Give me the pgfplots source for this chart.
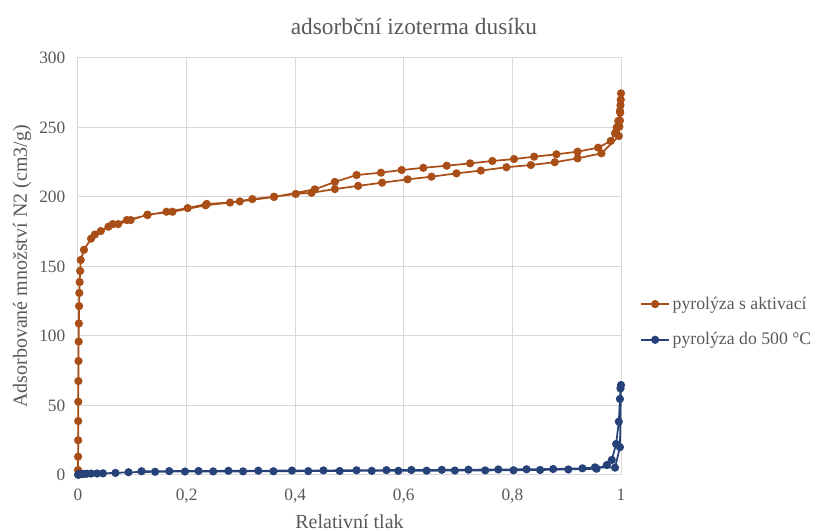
\documentclass[border=0pt]{standalone}
\usepackage{fontspec}
\setmainfont{Liberation Serif}
\usepackage{pgfplots}
\pgfplotsset{compat=1.18}
\definecolor{orng}{RGB}{168,78,22}
\definecolor{dblue}{RGB}{38,66,120}
\definecolor{gridc}{RGB}{217,217,217}
\definecolor{txt}{RGB}{89,89,89}
\begin{document}
\begin{tikzpicture}
\begin{axis}[
  at={(0,0)}, anchor=south west,
  scale only axis, width=407.25pt, height=312.75pt,
  xmin=0, xmax=1, ymin=0, ymax=300,
  xtick={0,0.2,0.4,0.6,0.8,1}, ytick={0,50,100,150,200,250,300},
  grid=major, grid style={gridc, line width=0.75pt},
  axis line style={gridc, line width=0.75pt},
  major tick length=0pt,
  tick label style={font=\fontsize{13}{15}\selectfont, text=txt},
  /pgf/number format/assume math mode=true,
  /pgf/number format/use comma,
  xticklabel style={yshift=-7pt},
  yticklabel style={xshift=-6pt},
  xlabel={Relativní tlak}, ylabel={Adsorbované množství N2 (cm3/g)},
  every axis x label/.style={at={(axis description cs:0.5,-0.112)}, anchor=center, font=\fontsize{15}{17}\selectfont, text=txt},
  every axis y label/.style={at={(axis description cs:-0.103,0.5)}, rotate=90, anchor=center, font=\fontsize{15}{17}\selectfont, text=txt},
  legend style={at={(1.035,0.367)}, anchor=west, draw=none, fill=none,
    font=\fontsize{13.3}{15}\selectfont, text=txt, row sep=12pt, inner sep=0pt},
  legend cell align=left,
  legend image code/.code={\draw[mark repeat=2,mark phase=2] plot coordinates {(0pt,0pt)(10.5pt,0pt)(21pt,0pt)};},
  clip=false,
]
\addplot[orng, line width=1.3pt, mark=*, mark size=2.4pt, mark options={fill=orng, draw=orng}] coordinates {
(0.0001,3.6)(0.0002,13.2)(0.0003,25)(0.0004,38.8)(0.0005,52.7)(0.0007,67.6)(0.0009,82)(0.0012,96)(0.0016,109)(0.002,121.5)(0.0025,131)(0.003,138.8)(0.004,146.8)(0.005,154.7)(0.011,162)(0.024,170)(0.042,175.5)(0.064,180.5)(0.09,183.4)(0.128,187)(0.163,189.4)(0.202,192)(0.237,195)(0.28,196)(0.321,198.5)(0.361,200.2)(0.401,202.2)(0.43,203)(0.473,205.7)(0.516,208)(0.56,210.3)(0.607,212.7)(0.651,214.6)(0.697,217)(0.742,219)(0.789,221.4)(0.834,223)(0.878,225)(0.92,227.8)(0.964,231.4)(0.996,243.9)(0.997,250.6)(0.998,255)(0.9985,260.6)(0.999,266)(0.9995,270)(1.0,274.6)
(0.998,262)(0.995,254.7)(0.992,250)(0.989,245.8)(0.981,240.3)(0.958,235.5)(0.92,232.6)(0.881,230.7)(0.84,229)(0.803,227.3)(0.763,225.9)(0.722,224.2)(0.679,222.5)(0.636,221)(0.596,219.4)(0.558,217.5)(0.513,215.8)(0.473,210.8)(0.436,205.5)(0.361,200)(0.298,196.8)(0.235,194)(0.174,189.4)(0.128,187.3)(0.097,183.4)(0.074,180.5)(0.056,178.6)(0.031,173)
};
\addlegendentry{pyrolýza s aktivací}
\addplot[dblue, line width=1.3pt, mark=*, mark size=2.4pt, mark options={fill=dblue, draw=dblue}] coordinates {
(0.0002,0.2)(0.0005,0.3)(0.001,0.4)(0.002,0.5)(0.004,0.6)(0.007,0.7)(0.011,0.8)(0.016,0.9)(0.024,1.0)(0.035,1.1)(0.046,1.2)(0.069,1.5)(0.093,2.0)(0.142,2.3)(0.197,2.5)(0.249,2.6)(0.304,2.6)(0.36,2.7)(0.424,2.8)(0.482,2.9)(0.541,3.0)(0.59,3.0)(0.642,3.1)(0.694,3.2)(0.75,3.3)(0.802,3.4)(0.851,3.6)(0.903,4.0)(0.955,4.5)(0.974,7.2)(0.983,10.8)(0.991,22.3)(0.996,38.4)(0.998,54.7)(0.999,62.3)(1.0,64.7)
(0.998,20)(0.989,5.3)(0.952,5.5)(0.929,4.8)(0.875,4.3)(0.826,4.1)(0.774,4.0)(0.719,3.8)(0.67,3.7)(0.614,3.6)(0.568,3.5)(0.513,3.4)(0.452,3.3)(0.394,3.2)(0.332,3.1)(0.277,3.0)(0.222,2.9)(0.168,2.8)(0.117,2.7)
};
\addlegendentry{pyrolýza do 500 °C}
\end{axis}
\node[font=\fontsize{17.5}{20}\selectfont, text=txt] at (252pt,336pt) {adsorbční izoterma dusíku};
\pgfresetboundingbox
\path (-58.5pt,-42pt) rectangle (561.75pt,356.25pt);
\end{tikzpicture}
\end{document}
